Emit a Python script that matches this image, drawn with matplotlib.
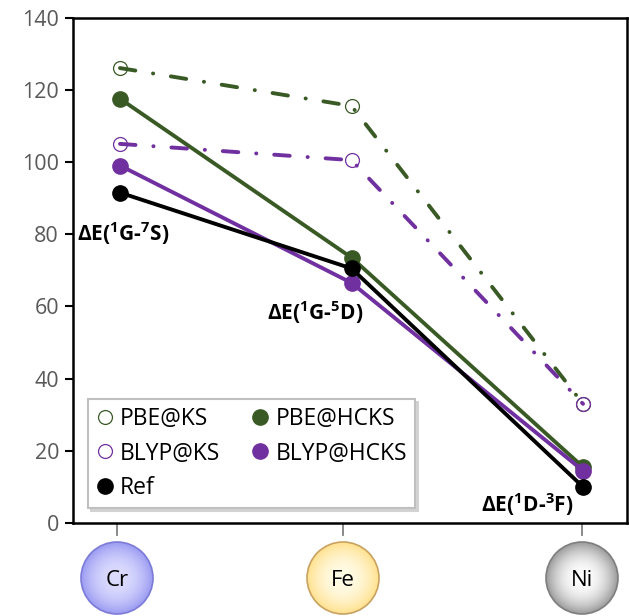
import numpy as np
import matplotlib
matplotlib.use("Agg")
import matplotlib.pyplot as plt
from matplotlib.lines import Line2D
from matplotlib.patches import Circle
from matplotlib.colors import to_rgb

plt.rcParams['font.family'] = ['Open Sans', 'DejaVu Sans']
plt.rcParams['mathtext.fontset'] = 'custom'
plt.rcParams['mathtext.bf'] = 'Open Sans:bold'
plt.rcParams['mathtext.rm'] = 'Open Sans'

# data
elements = ['Cr', 'Fe', 'Ni']
xpos = [1, 2, 3]
pbe_ks = [126, 115.5, 33]
pbe_hcks = [117.5, 73.5, 15.5]
blyp_ks = [105, 100.5, 33]
blyp_hcks = [99, 66.5, 14.5]
ref = [91.5, 70.5, 10]
transitions = [('1', 'G', '7', 'S'), ('1', 'G', '5', 'D'), ('1', 'D', '3', 'F')]
yticks = [0, 20, 40, 60, 80, 100, 120, 140]

green = '#3a5a25'
purple = '#7030a0'

W, H = 629, 616
fig = plt.figure(figsize=(W / 100, H / 100), dpi=100)
ax = fig.add_axes([73 / W, 1 - 523 / H, (627 - 73) / W, (523 - 17.5) / H])

dd = (0, (4, 4.6, 0.05, 4.6))
lw = 2.8
ax.plot(xpos, pbe_ks, color=green, lw=lw, ls=dd, dash_capstyle='round',
        marker='o', ms=10, mfc='none', mec=green, mew=0.9)
ax.plot(xpos, pbe_hcks, color=green, lw=lw, marker='o', ms=11, mfc=green, mec=green)
ax.plot(xpos, blyp_ks, color=purple, lw=lw, ls=dd, dash_capstyle='round',
        marker='o', ms=10, mfc='none', mec=purple, mew=0.9)
ax.plot(xpos, blyp_hcks, color=purple, lw=lw, marker='o', ms=11, mfc=purple, mec=purple)
ax.plot(xpos, ref, color='black', lw=lw, marker='o', ms=11, mfc='black', mec='black')

# transition labels
lab_xy = [(1.013, 80.3), (1.842, 58.4), (2.76, 5.0)]
for (s1, t1, s2, t2), (lx, ly) in zip(transitions, lab_xy):
    txt = 'ΔE($^{\\mathbf{%s}}$%s-$^{\\mathbf{%s}}$%s)' % (s1, t1, s2, t2)
    ax.text(lx, ly, txt, ha='center', va='center', fontsize=15, fontweight='bold')

ax.set_xlim(0.797, 3.19)
ax.set_ylim(0, 140)
ax.set_yticks(yticks)
ax.set_xticks([])
ax.tick_params(axis='y', length=6, width=1.5, color='black', labelsize=15.5,
               labelcolor='#595959', pad=4)
for s in ax.spines.values():
    s.set_linewidth(1.8)
    s.set_color('black')

handles = [
    Line2D([], [], ls='none', marker='o', ms=10, mfc='none', mec=green, mew=0.9),
    Line2D([], [], ls='none', marker='o', ms=10, mfc='none', mec=purple, mew=0.9),
    Line2D([], [], ls='none', marker='o', ms=11, mfc='black', mec='black'),
    Line2D([], [], ls='none', marker='o', ms=11, mfc=green, mec=green),
    Line2D([], [], ls='none', marker='o', ms=11, mfc=purple, mec=purple),
]
labels = ['PBE@KS', 'BLYP@KS', 'Ref', 'PBE@HCKS', 'BLYP@HCKS']
leg = ax.legend(handles, labels, ncol=2, loc='lower left', bbox_to_anchor=(0.027, 0.03),
                borderaxespad=0, fontsize=16.5, frameon=True, fancybox=False,
                edgecolor='#bfbfbf', framealpha=1, handlelength=0.8, handletextpad=0.25,
                columnspacing=1.35, labelspacing=0.45, borderpad=0.35,
                shadow={'color': '#d0d0d0', 'alpha': 0.9})
leg.get_frame().set_linewidth(1.5)

# element badges below the axis
ov = fig.add_axes([0, 0, 1, 1], zorder=-1)
ov.axis('off')
badge_x = [117, 343, 582]
badge_y = 578
badge_r = 36
badge_cols = [('#dcdcff', '#9a9af2', '#7c7cd8'),
              ('#fffbe6', '#ffe08c', '#c9a261'),
              ('#ffffff', '#9a9a9a', '#7f7f7f')]
n = 200
g = np.linspace(-1, 1, n)
gx, gy = np.meshgrid(g, g)
rr = np.clip(np.sqrt(gx ** 2 + gy ** 2), 0, 1)
for name, bx, (c0, c1, ce) in zip(elements, badge_x, badge_cols):
    ov.plot([bx, bx], [524, 535], color='#808080', lw=1.3)
    t = rr ** 2.2
    a, b = np.array(to_rgb(c0)), np.array(to_rgb(c1))
    img = a[None, None, :] * (1 - t[..., None]) + b[None, None, :] * t[..., None]
    im = ov.imshow(img, extent=[bx - badge_r, bx + badge_r, badge_y + badge_r, badge_y - badge_r],
                   interpolation='bilinear')
    clip = Circle((bx, badge_y), badge_r, transform=ov.transData)
    im.set_clip_path(clip)
    ov.add_patch(Circle((bx, badge_y), badge_r, fill=False, ec=ce, lw=1.2))
    ov.text(bx, badge_y + 2, name, ha='center', va='center', fontsize=16, color='black')
ov.set_xlim(0, W)
ov.set_ylim(H, 0)
ov.set_aspect('auto')

fig.savefig('out.png', dpi=100)
